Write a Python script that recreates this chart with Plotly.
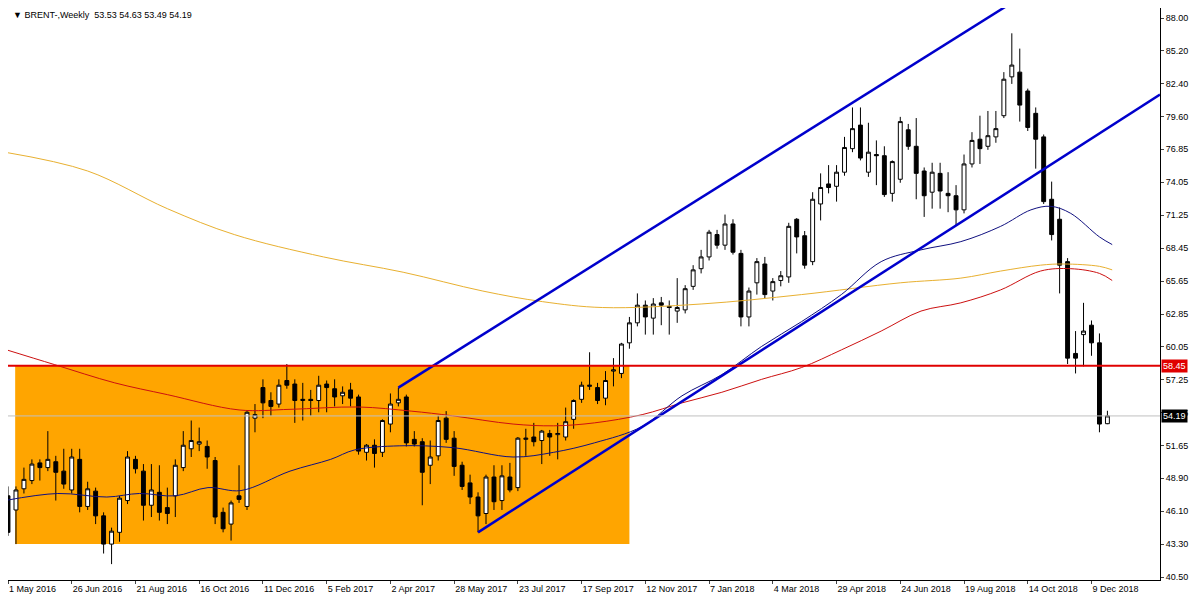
import plotly.graph_objects as go

opens = [47.4,46.2,48.0,48.7,50.2,49.8,50.3,49.5,47.9,50.5,46.5,47.8,45.7,43.3,44.3,47.0,50.5,49.5,46.6,47.7,
46.4,47.4,49.8,51.4,51.8,51.6,50.4,46.0,45.0,47.4,46.5,54.0,56.6,55.5,55.2,57.2,56.9,55.5,55.6,55.5,
56.9,56.5,55.9,56.4,55.8,51.1,51.7,51.1,53.5,55.3,55.8,52.2,52.0,50.0,50.8,54.0,52.3,50.0,48.5,47.3,
45.9,49.0,47.0,49.0,48.1,52.2,52.4,52.1,52.7,52.6,52.4,53.9,55.6,56.7,56.6,55.7,58.0,57.8,60.4,62.1,
63.6,62.5,63.8,63.5,63.1,63.2,65.2,66.7,67.7,69.6,68.7,70.5,68.0,62.6,65.5,67.1,64.8,65.7,66.0,70.9,
69.5,67.3,72.2,73.9,73.7,74.9,76.9,78.9,74.9,76.4,76.3,73.1,74.3,78.5,77.1,75.0,73.2,74.8,73.1,72.9,
71.7,75.6,77.7,77.1,77.9,79.7,83.0,83.4,81.8,79.9,77.9,72.6,70.9,67.3,59.5,61.1,61.9,60.4,53.53]
highs = [48.2,48.2,49.8,50.5,50.5,52.9,50.8,51.4,51.4,51.4,48.6,48.1,46.0,44.7,47.4,51.2,50.8,50.1,50.1,50.0,
48.1,50.5,52.9,53.8,53.2,52.1,50.7,46.4,47.0,50.0,54.6,55.2,57.3,56.2,57.3,58.6,57.3,57.0,56.4,57.6,
57.2,57.3,56.7,57.0,56.0,51.8,52.2,53.9,56.1,56.6,56.0,52.9,52.3,52.1,54.2,54.6,52.9,50.3,49.2,47.7,
49.2,50.0,50.0,50.2,52.4,53.1,53.6,53.0,53.0,53.6,54.9,55.6,57.1,59.6,57.0,58.0,59.1,60.4,62.6,64.6,
64.0,64.2,64.3,64.0,65.9,65.3,67.0,68.3,70.0,70.0,71.3,70.9,68.3,65.1,67.6,67.7,65.9,66.5,70.6,71.0,
69.9,73.2,74.8,75.5,75.5,77.9,80.4,80.4,79.1,77.6,77.1,75.9,79.6,79.0,79.5,75.3,75.7,75.7,74.9,73.8,
76.4,78.3,79.7,80.1,80.1,83.4,86.7,85.4,82.0,80.4,78.1,74.1,71.9,67.6,61.4,63.8,62.3,61.2,54.63]
lows = [44.0,43.3,47.6,48.4,48.7,49.5,47.0,48.0,47.6,46.0,46.2,45.0,42.5,41.6,43.5,46.7,49.3,45.3,45.6,45.3,
45.0,45.6,49.5,50.7,51.2,49.7,45.0,44.3,43.6,46.8,46.2,52.8,54.0,54.2,54.9,56.5,53.6,53.8,54.2,54.5,
54.5,55.0,55.2,55.0,50.9,50.4,49.8,50.7,52.8,55.0,51.6,51.6,46.6,48.4,50.4,51.9,49.1,47.9,46.7,44.3,
45.0,46.2,46.2,47.7,47.8,50.8,51.6,50.1,50.8,50.5,52.1,53.1,55.3,56.4,55.2,55.1,56.7,57.4,59.9,61.8,
61.1,61.1,61.9,61.1,62.1,62.9,64.9,66.3,67.4,68.4,68.3,67.9,61.8,61.8,64.5,64.2,64.0,65.2,65.5,68.0,
66.7,67.0,70.8,73.1,72.4,74.6,76.6,75.9,74.5,73.8,72.8,72.4,74.0,76.8,72.6,71.1,71.8,71.8,71.5,70.4,
71.4,75.3,75.6,76.8,77.4,79.5,82.4,79.2,78.4,75.2,72.2,69.1,64.6,58.6,57.8,58.4,59.3,52.8,53.49]
closes = [44.3,47.9,48.8,50.1,49.8,50.5,49.4,48.4,50.7,46.5,48.0,45.7,43.3,44.4,47.2,50.7,49.7,46.6,47.9,46.0,
45.9,50.0,51.7,52.1,52.0,50.7,45.6,44.6,46.8,47.1,54.5,54.3,55.3,55.0,56.8,56.8,55.5,55.6,55.5,56.8,
56.6,55.8,56.2,55.7,51.2,51.7,51.0,53.8,55.2,55.6,51.9,51.8,49.4,50.7,53.8,52.2,49.9,48.2,47.3,45.7,
49.0,46.9,49.1,47.9,52.3,52.3,52.0,52.9,52.4,52.7,53.7,55.5,56.8,56.8,55.5,57.2,58.1,60.3,62.1,63.6,
62.6,63.7,63.6,63.4,63.4,65.0,66.6,67.7,69.8,68.7,70.5,68.1,62.6,64.8,67.3,64.5,65.6,66.1,70.3,69.4,
67.0,72.6,73.6,73.6,74.9,77.0,78.6,76.1,76.6,76.3,73.0,75.8,79.2,77.1,74.8,72.9,74.9,73.3,72.9,71.7,
75.6,77.6,76.9,78.0,78.6,82.8,84.0,80.6,78.7,77.7,72.4,69.6,67.0,59.1,59.1,61.4,60.4,53.5,54.19]

tick_labels = ["1 May 2016","26 Jun 2016","21 Aug 2016","16 Oct 2016","11 Dec 2016","5 Feb 2017",
"2 Apr 2017","28 May 2017","23 Jul 2017","17 Sep 2017","12 Nov 2017","7 Jan 2018","4 Mar 2018",
"29 Apr 2018","24 Jun 2018","19 Aug 2018","14 Oct 2018","9 Dec 2018"]
tick_pos = [8*k for k in range(len(tick_labels))]
y_ticks = [88.00,85.20,82.40,79.60,76.85,74.05,71.25,68.45,65.65,62.85,60.05,57.25,54.45,51.65,48.90,46.10,43.30,40.50]

# moving averages (index, value)
ma_gold_x = [-0.4,10,20,28.4,39.6,49.6,59.6,67.1,74.6,87,99.6,112,119.6,124.6,129.6,132.5,137,138.6]
ma_gold_y = [76.6,75.0,71.8,69.6,67.7,66.4,64.8,63.9,63.4,63.7,64.5,65.5,65.9,66.5,67.0,67.1,66.9,66.6]
ma_red_x = [-0.4,5.8,13.4,20,29,35.4,44,50.6,55.8,63.4,68.5,73.6,79.6,84.6,89.6,94.6,99.6,104.6,109.6,114.6,119.6,124.6,129.6,133.4,137,138.6]
ma_red_y = [59.85,58.56,57.0,56.0,54.7,54.75,54.95,54.6,54.2,53.5,53.35,53.6,54.3,55.3,56.2,57.3,58.3,59.8,61.4,63.1,63.8,64.9,66.5,66.7,66.3,65.7]
ma_blue_x = [-0.4,6.25,12.4,16.5,21,25.1,29.25,35.4,40.5,43.5,49.1,55.8,63.4,68.5,73.6,79.6,84.6,89.6,94.6,99.6,104.6,109.6,114.6,119.6,124.6,128.4,130.9,133.4,137,138.6]
ma_blue_y = [47.0,47.6,47.3,47.6,47.4,48.1,47.85,49.5,50.5,51.3,51.65,51.5,50.7,51.1,51.9,53.3,55.9,57.7,60.1,62.2,64.5,67.3,68.3,69.0,70.3,71.7,72.0,71.4,69.4,68.75]

x = list(range(len(closes)))
fig = go.Figure()
fig.add_shape(type="rect", x0=0.9, x1=78, y0=43.3, y1=58.45, fillcolor="#FFA500", line_width=0, layer="below")
fig.add_trace(go.Scatter(x=ma_gold_x, y=ma_gold_y, mode="lines", line=dict(color="#E8B030", width=1, shape="spline"), hoverinfo="skip"))
fig.add_trace(go.Scatter(x=ma_red_x, y=ma_red_y, mode="lines", line=dict(color="#CC1010", width=1, shape="spline"), hoverinfo="skip"))
fig.add_trace(go.Scatter(x=ma_blue_x, y=ma_blue_y, mode="lines", line=dict(color="#101080", width=1, shape="spline"), hoverinfo="skip"))
fig.add_trace(go.Candlestick(x=x, open=opens, high=highs, low=lows, close=closes, whiskerwidth=0,
    increasing=dict(line=dict(color="black", width=1), fillcolor="white"),
    decreasing=dict(line=dict(color="black", width=1), fillcolor="black")))
# trend channel
fig.add_shape(type="line", x0=49, y0=56.6, x1=126, y1=89.3, line=dict(color="#0000CC", width=2.5))
fig.add_shape(type="line", x0=59, y0=44.3, x1=144.6, y1=81.5, line=dict(color="#0000CC", width=2.5))
fig.add_shape(type="line", x0=-1, x1=145, y0=58.45, y1=58.45, line=dict(color="#E00000", width=2))
fig.add_shape(type="line", x0=-1, x1=145, y0=54.19, y1=54.19, line=dict(color="#C0C0C0", width=1))

for v, bg in [(58.45, "#E00000"), (54.19, "black")]:
    fig.add_annotation(x=1.0, xref="paper", y=v, yref="y", text=f"{v:.2f}", showarrow=False,
        xanchor="left", xshift=1, bgcolor=bg, font=dict(color="white", size=9, family="Liberation Sans"), borderpad=1)
fig.add_annotation(x=0.003, y=1.0, xref="paper", yref="paper", xanchor="left", yanchor="top", showarrow=False,
    text="▼ BRENT-,Weekly  53.53 54.63 53.49 54.19", font=dict(size=9, color="black", family="Liberation Sans"))

fig.update_layout(width=1192, height=592, margin=dict(l=0, r=40, t=0, b=20), showlegend=False,
    plot_bgcolor="white", paper_bgcolor="white", font=dict(family="Liberation Sans", size=9, color="black"))
fig.update_xaxes(range=[0, 144.6], tickvals=tick_pos, ticktext=tick_labels, rangeslider_visible=False,
    ticklabelposition="outside right",
    showgrid=False, showline=True, linecolor="black", mirror=True, ticks="outside", ticklen=3, zeroline=False)
fig.update_yaxes(range=[40.25, 88.85], tickvals=y_ticks, ticktext=[f"{v:.2f}" for v in y_ticks], side="right",
    showgrid=False, showline=True, linecolor="black", mirror=True, ticks="outside", ticklen=3, zeroline=False)
fig.write_html("out.html")
